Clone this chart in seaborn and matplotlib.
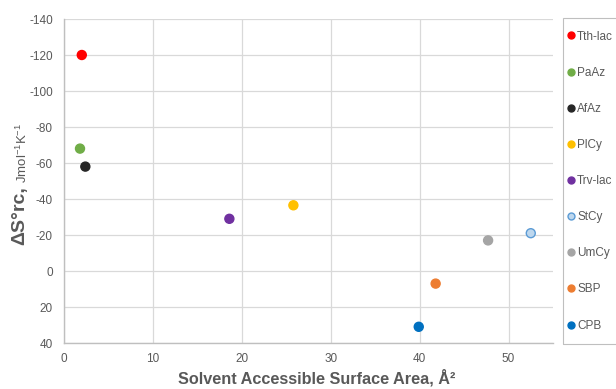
import matplotlib
matplotlib.use("Agg")
import matplotlib.pyplot as plt
import seaborn as sns
import pandas as pd
from matplotlib.lines import Line2D
from matplotlib.patches import Rectangle

# datos
proteinas = ['Tth-lac', 'PaAz', 'AfAz', 'PlCy', 'Trv-lac', 'StCy', 'UmCy', 'SBP', 'CPB']
sasa = [2.0, 1.8, 2.4, 25.8, 18.6, 52.5, 47.7, 41.8, 39.9]
delta_s = [-120, -68, -58, -36.5, -29, -21, -17, 7, 31]
colores = ['#FF0000', '#70AD47', '#262626', '#FFC000', '#7030A0',
           '#BDD7EE', '#A5A5A5', '#ED7D31', '#0070C0']
bordes = ['#FF0000', '#70AD47', '#262626', '#FFC000', '#7030A0',
          '#5B9BD5', '#A5A5A5', '#ED7D31', '#0070C0']
yticks = [-140, -120, -100, -80, -60, -40, -20, 0, 20, 40]
xticks = [0, 10, 20, 30, 40, 50]

df = pd.DataFrame({'proteina': proteinas, 'sasa': sasa, 'ds': delta_s})

sns.set_theme(style='whitegrid')
plt.rcParams['font.family'] = ['Liberation Sans', 'DejaVu Sans']
plt.rcParams['mathtext.fontset'] = 'custom'
plt.rcParams['mathtext.rm'] = 'Liberation Sans'
plt.rcParams['mathtext.default'] = 'regular'
plt.rcParams['axes.unicode_minus'] = False

gris = '#595959'
W, H = 616, 389
fig = plt.figure(figsize=(6.16, 3.89), dpi=100)
ax = fig.add_axes([64 / W, 46 / H, 489 / W, 324 / H])

sns.scatterplot(data=df, x='sasa', y='ds', hue='proteina',
                palette=dict(zip(proteinas, colores)), s=42,
                legend=False, ax=ax, zorder=3)
ax.collections[0].set_edgecolor(bordes)
ax.collections[0].set_linewidth(1.0)

ax.set_xlim(0, 55)
ax.set_ylim(40, -140)
ax.set_xticks(xticks)
ax.set_yticks(yticks)
ax.tick_params(axis='both', length=0, labelsize=8.5, labelcolor=gris)
ax.tick_params(axis='y', pad=8)
ax.tick_params(axis='x', pad=7)
ax.grid(True, color='#D9D9D9', linewidth=0.9)
for lado in ['top', 'right']:
    ax.spines[lado].set_visible(False)
for lado in ['left', 'bottom']:
    ax.spines[lado].set_color('#BFBFBF')
    ax.spines[lado].set_linewidth(1.0)
ax.set_facecolor('white')

ax.set_xlabel('Solvent Accessible Surface Area, Å²', fontsize=11.7,
              fontweight='bold', color=gris)
ax.xaxis.set_label_coords(0.517, -0.08)
ax.set_ylabel('')

# etiqueta del eje y en dos partes (tamanos distintos)
t1 = fig.text(20 / W, 1 - 245 / H, 'ΔS°rc,', rotation=90, fontsize=14,
              fontweight='bold', color=gris, ha='center', va='bottom')
fig.canvas.draw()
bb = t1.get_window_extent()
fig.text(22 / W, (bb.y1 + 3) / fig.bbox.height, 'Jmol$^{-1}$K$^{-1}$',
         rotation=90, fontsize=9.5, color=gris, ha='center', va='bottom')

# marco de la leyenda (se sale por la derecha como en el original)
fig.patches.append(Rectangle((563 / W, 1 - 344 / H), 0.2, 326 / H,
                             transform=fig.transFigure, fill=False,
                             edgecolor='#BFBFBF', linewidth=0.8))

handles = [Line2D([], [], marker='o', ls='', markerfacecolor=c,
                  markeredgecolor=e, markersize=5, markeredgewidth=1)
           for c, e in zip(colores, bordes)]
leg = fig.legend(handles, proteinas, loc='upper left',
                 bbox_to_anchor=(566.5 / W, 1 - 30.5 / H),
                 bbox_transform=fig.transFigure, frameon=False,
                 fontsize=8.5, labelcolor=gris,
                 labelspacing=2.045, borderpad=0, handletextpad=0.2,
                 handlelength=0.7, borderaxespad=0)

fig.savefig('out.png', dpi=100)
